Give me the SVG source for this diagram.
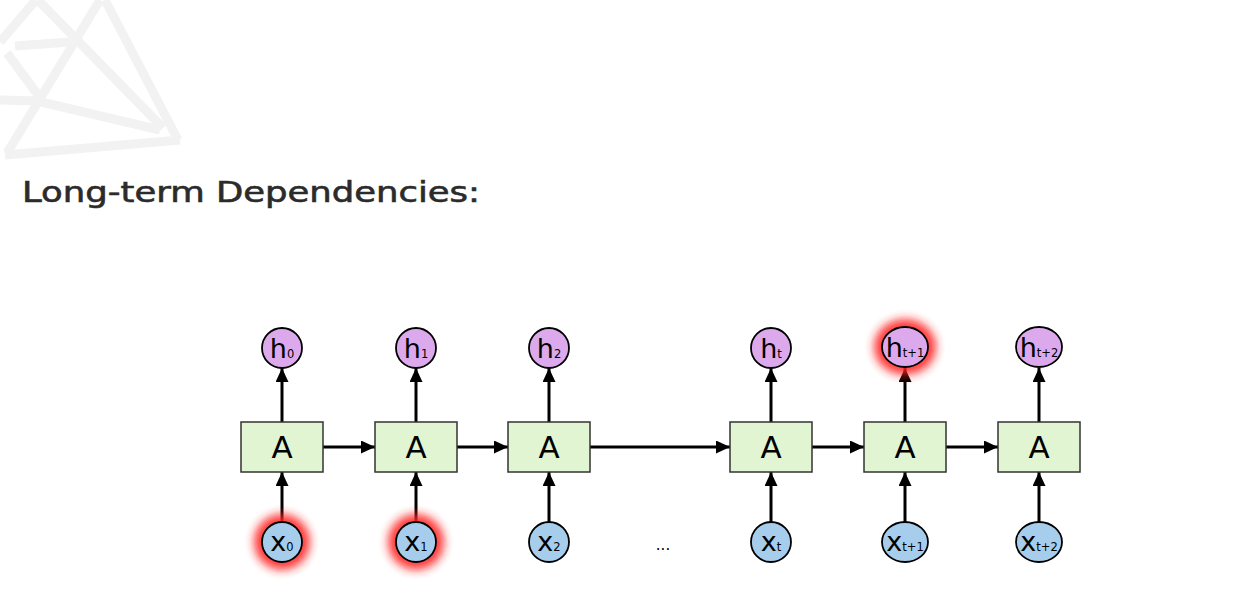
<svg xmlns="http://www.w3.org/2000/svg" width="1240" height="595" viewBox="0 0 1240 595">
  <defs>
    <marker id="arrow" viewBox="0 0 14 13" refX="14" refY="6.5" markerWidth="14" markerHeight="13" markerUnits="userSpaceOnUse" orient="auto">
      <path d="M0,0 L14,6.5 L0,13 Z" fill="#000"/>
    </marker>
    <filter id="glow" x="-100%" y="-100%" width="300%" height="300%">
      <feGaussianBlur stdDeviation="5"/>
    </filter>
  </defs>
  <style>
    .bg { fill: #ffffff; }
    .mark { fill: none; stroke: #f2f2f2; stroke-width: 9; stroke-linecap: butt; stroke-linejoin: miter; }
    .title { font-family: "DejaVu Sans", "Liberation Sans", sans-serif; font-size: 28px; fill: #2b2b2b; stroke: #2b2b2b; stroke-width: 0.6; }
    .cell { fill: #e2f5d3; stroke: #333; stroke-width: 1.5; }
    .cellLabel { font-family: "DejaVu Sans", sans-serif; font-size: 31px; fill: #000; text-anchor: middle; }
    .out { fill: #dcaaec; stroke: #000; stroke-width: 1.8; }
    .in { fill: #a6cdec; stroke: #000; stroke-width: 1.8; }
    .lbl { font-family: "DejaVu Sans", sans-serif; font-size: 27px; fill: #000; text-anchor: middle; }
    .sub { font-size: 11.5px; }
    .halo { fill: #ff2020; filter: url(#glow); opacity: 0.9; }
    .link { stroke: #000; stroke-width: 3; fill: none; marker-end: url(#arrow); }
    .dots { font-family: "DejaVu Sans", sans-serif; font-size: 15px; fill: #000; text-anchor: middle; }
  </style>

  <rect class="bg" x="0" y="0" width="1240" height="595"/>

  <!-- faint wireframe mark, top left -->
  <g id="watermark">
    <path class="mark" d="M36,0 L0,42"/>
    <path class="mark" d="M38,0 L163,128"/>
    <path class="mark" d="M105,0 L178,140"/>
    <path class="mark" d="M100,0 L7,153"/>
    <path class="mark" d="M15,46 L70,42"/>
    <path class="mark" d="M7,53 L38,95"/>
    <path class="mark" d="M0,100 L37,101 L160,130"/>
    <path class="mark" d="M5,155 L180,140"/>
  </g>

  <text id="title" class="title" x="22" y="202" textLength="458" lengthAdjust="spacingAndGlyphs">Long-term Dependencies:</text>

  <!-- connectors -->
  <g id="connectors">
    <!-- input to cell -->
    <line class="link" x1="282" y1="522" x2="282" y2="472"/>
    <line class="link" x1="416" y1="522" x2="416" y2="472"/>
    <line class="link" x1="549" y1="522" x2="549" y2="472"/>
    <line class="link" x1="771" y1="522" x2="771" y2="472"/>
    <line class="link" x1="905" y1="522" x2="905" y2="472"/>
    <line class="link" x1="1039" y1="522" x2="1039" y2="472"/>
    <!-- cell to output -->
    <line class="link" x1="282" y1="422" x2="282" y2="368"/>
    <line class="link" x1="416" y1="422" x2="416" y2="368"/>
    <line class="link" x1="549" y1="422" x2="549" y2="368"/>
    <line class="link" x1="771" y1="422" x2="771" y2="368"/>
    <line class="link" x1="905" y1="422" x2="905" y2="368"/>
    <line class="link" x1="1039" y1="422" x2="1039" y2="368"/>
    <!-- recurrent state -->
    <line class="link" x1="323" y1="447" x2="375" y2="447"/>
    <line class="link" x1="457" y1="447" x2="508" y2="447"/>
    <line class="link" x1="590" y1="447" x2="730" y2="447"/>
    <line class="link" x1="812" y1="447" x2="864" y2="447"/>
    <line class="link" x1="946" y1="447" x2="998" y2="447"/>
  </g>

  <!-- cells -->
  <g id="A0"><rect class="cell" x="241" y="422" width="82" height="50"/><text class="cellLabel" x="282" y="458">A</text></g>
  <g id="A1"><rect class="cell" x="375" y="422" width="82" height="50"/><text class="cellLabel" x="416" y="458">A</text></g>
  <g id="A2"><rect class="cell" x="508" y="422" width="82" height="50"/><text class="cellLabel" x="549" y="458">A</text></g>
  <g id="At"><rect class="cell" x="730" y="422" width="82" height="50"/><text class="cellLabel" x="771" y="458">A</text></g>
  <g id="At1"><rect class="cell" x="864" y="422" width="82" height="50"/><text class="cellLabel" x="905" y="458">A</text></g>
  <g id="At2"><rect class="cell" x="998" y="422" width="82" height="50"/><text class="cellLabel" x="1039" y="458">A</text></g>

  <!-- outputs -->
  <g id="h0"><circle class="out" cx="282" cy="348" r="20"/><text class="lbl" x="282" y="358">h<tspan class="sub">0</tspan></text></g>
  <g id="h1"><circle class="out" cx="416" cy="348" r="20"/><text class="lbl" x="416" y="358">h<tspan class="sub">1</tspan></text></g>
  <g id="h2"><circle class="out" cx="549" cy="348" r="20"/><text class="lbl" x="549" y="358">h<tspan class="sub">2</tspan></text></g>
  <g id="ht"><circle class="out" cx="771" cy="348" r="20"/><text class="lbl" x="771" y="358">h<tspan class="sub">t</tspan></text></g>
  <g id="ht1">
    <ellipse class="halo" cx="905" cy="347" rx="31" ry="28"/>
    <ellipse class="out" cx="905" cy="347" rx="23" ry="20"/>
    <text class="lbl" x="905" y="357">h<tspan class="sub">t+1</tspan></text>
  </g>
  <g id="ht2"><ellipse class="out" cx="1039" cy="347" rx="23" ry="20"/><text class="lbl" x="1039" y="357">h<tspan class="sub">t+2</tspan></text></g>

  <!-- inputs -->
  <g id="x0">
    <circle class="halo" cx="282" cy="542" r="28"/>
    <circle class="in" cx="282" cy="542" r="20"/>
    <text class="lbl" x="282" y="551">x<tspan class="sub">0</tspan></text>
  </g>
  <g id="x1">
    <circle class="halo" cx="416" cy="542" r="28"/>
    <circle class="in" cx="416" cy="542" r="20"/>
    <text class="lbl" x="416" y="551">x<tspan class="sub">1</tspan></text>
  </g>
  <g id="x2"><circle class="in" cx="549" cy="542" r="20"/><text class="lbl" x="549" y="551">x<tspan class="sub">2</tspan></text></g>
  <g id="xt"><circle class="in" cx="771" cy="542" r="20"/><text class="lbl" x="771" y="551">x<tspan class="sub">t</tspan></text></g>
  <g id="xt1"><ellipse class="in" cx="905" cy="542" rx="23" ry="20"/><text class="lbl" x="905" y="551">x<tspan class="sub">t+1</tspan></text></g>
  <g id="xt2"><ellipse class="in" cx="1039" cy="542" rx="23" ry="20"/><text class="lbl" x="1039" y="551">x<tspan class="sub">t+2</tspan></text></g>

  <text id="ellipsis" class="dots" x="663" y="550">...</text>
</svg>
